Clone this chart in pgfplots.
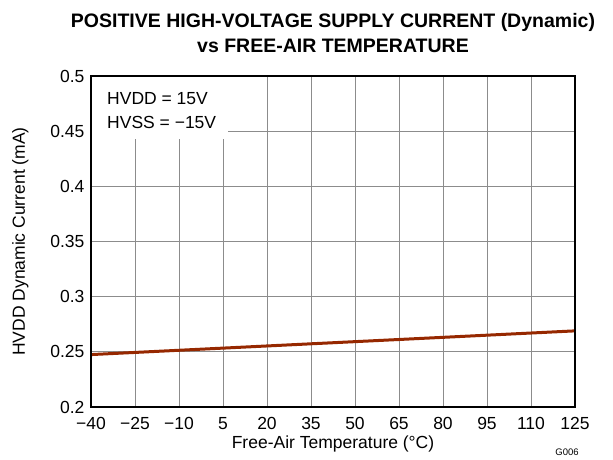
\documentclass[border=0pt]{standalone}
\usepackage{fontspec}
\setmainfont{Liberation Sans}
\usepackage{pgfplots}
\pgfplotsset{compat=1.18}
\definecolor{linec}{HTML}{962800}
\begin{document}
\begin{tikzpicture}
\path[use as bounding box] (-91pt,-53pt) rectangle (522pt,407pt);
\begin{axis}[
  scale only axis, width=484pt, height=331pt,
  xmin=-40, xmax=125, ymin=0.2, ymax=0.5,
  xtick={-40,-25,...,125},
  xticklabels={−40,−25,−10,5,20,35,50,65,80,95,110,125},
  ytick={0.2,0.25,...,0.51},
  yticklabels={0.2,0.25,0.3,0.35,0.4,0.45,0.5},
  /pgf/number format/assume math mode=true,
  tick label style={font=\fontsize{17.5}{20}\selectfont},
  xticklabel style={yshift=-7pt},
  yticklabel style={xshift=-3pt},
  grid=major, major grid style={gray!90, line width=0.8pt},
  axis line style={line width=1.5pt},
  tick style={draw=none},
  xlabel={Free-Air Temperature (°C)},
  ylabel={HVDD Dynamic Current (mA)},
  label style={font=\fontsize{17.5}{20}\selectfont},
  xlabel style={yshift=1pt},
  ylabel style={yshift=15pt},
  title={POSITIVE HIGH-VOLTAGE SUPPLY CURRENT (Dynamic)\\vs FREE-AIR TEMPERATURE},
  title style={font=\bfseries\fontsize{19.5}{25}\selectfont, align=center, yshift=14pt},
]
\addplot[linec, line width=3pt] coordinates {(-40,0.2475) (125,0.2690)};
\node[fill=white, anchor=north west, inner sep=0pt, minimum width=137pt, minimum height=63pt] at (rel axis cs:0,1) {};
\node[anchor=north west, align=left, inner sep=0pt, font=\fontsize{17.5}{24}\selectfont] at ([xshift=16pt,yshift=-16pt]rel axis cs:0,1) {HVDD = 15V\\HVSS = −15V};
\draw[line width=1.5pt] (rel axis cs:0,0) rectangle (rel axis cs:1,1);
\end{axis}
\node[font=\fontsize{9.5}{10}\selectfont] at (476pt,-45pt) {G006};
\end{tikzpicture}
\end{document}
